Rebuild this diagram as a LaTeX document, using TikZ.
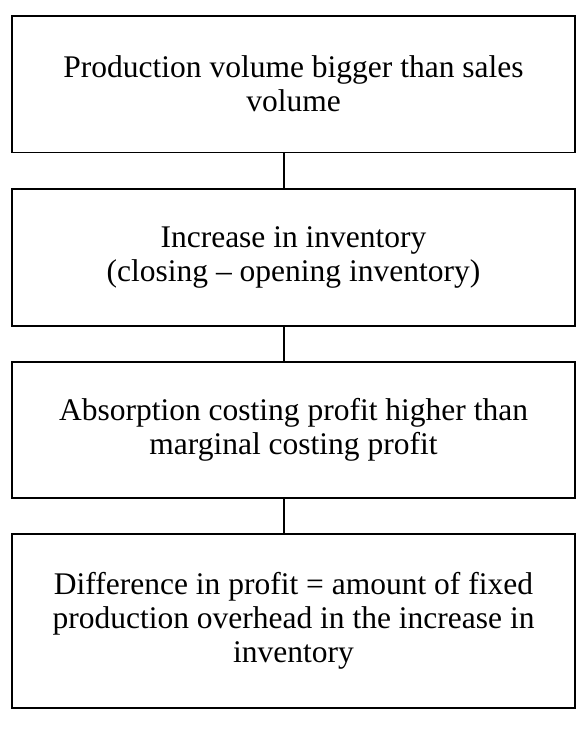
\documentclass[tikz,border=0pt]{standalone}
\usepackage{fontspec}
\setmainfont{Liberation Serif}
\begin{document}
\begin{tikzpicture}[x=1pt,y=-1pt,
  flowbox/.style={draw=black, line width=1.8pt, rectangle, minimum width=563pt,
    align=center, inner sep=0pt, font=\fontsize{31.5}{34}\selectfont},
  link/.style={draw=black, line width=1.8pt}]
\useasboundingbox (0,0) rectangle (587,740);
\fill[white] (0,0) rectangle (587,740);
\node[flowbox, minimum height=136.5pt] (b1) at (293.5,84.2)
  {Production volume bigger than sales\\volume};
\node[flowbox, minimum height=137pt] (b2) at (293.5,257.3)
  {Increase in inventory\\(closing – opening inventory)};
\node[flowbox, minimum height=136.3pt] (b3) at (293.5,429.9)
  {Absorption costing profit higher than\\marginal costing profit};
\node[flowbox, minimum height=174pt] (b4) at (293.5,621.1)
  {Difference in profit = amount of fixed\\production overhead in the increase in\\inventory};
\draw[link] ([xshift=-9.5pt]b1.south) -- ([xshift=-9.5pt]b2.north);
\draw[link] ([xshift=-9.5pt]b2.south) -- ([xshift=-9.5pt]b3.north);
\draw[link] ([xshift=-9.5pt]b3.south) -- ([xshift=-9.5pt]b4.north);
\end{tikzpicture}
\end{document}
